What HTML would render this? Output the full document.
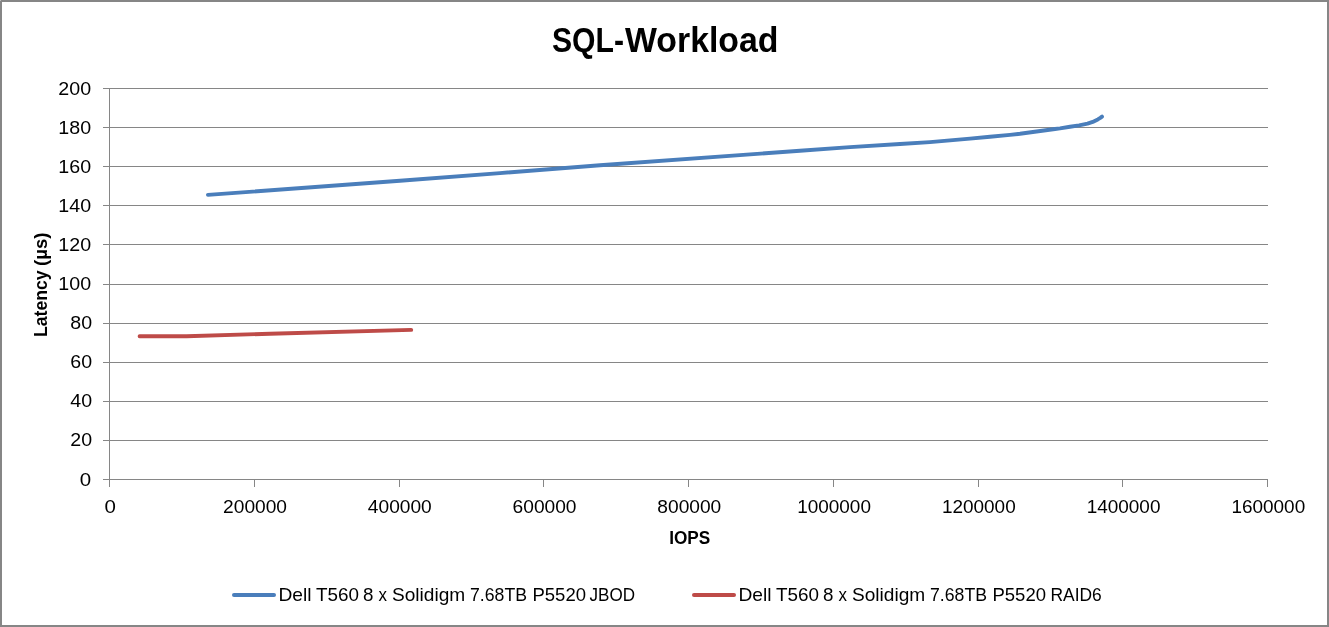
<!DOCTYPE html>
<html><head><meta charset="utf-8"><title>SQL-Workload</title>
<style>
html,body{margin:0;padding:0;background:#fff;}
body{width:1329px;height:627px;overflow:hidden;}
svg{display:block;will-change:transform;}
text{font-family:"Liberation Sans",sans-serif;fill:#000;}
.b{font-weight:bold;}
</style></head><body>
<svg width="1329" height="627" viewBox="0 0 1329 627">
<rect x="0" y="0" width="1329" height="627" fill="#fff"/>
<rect x="1" y="1" width="1327" height="625" fill="none" stroke="#868686" stroke-width="2" shape-rendering="crispEdges"/>
<rect x="0" y="0" width="1" height="1" fill="#bcbcbc"/>
<g stroke="#868686" stroke-width="1" shape-rendering="crispEdges">
<line x1="103" y1="479.5" x2="1268" y2="479.5"/>
<line x1="103" y1="440.5" x2="1268" y2="440.5"/>
<line x1="103" y1="401.5" x2="1268" y2="401.5"/>
<line x1="103" y1="362.5" x2="1268" y2="362.5"/>
<line x1="103" y1="323.5" x2="1268" y2="323.5"/>
<line x1="103" y1="284.5" x2="1268" y2="284.5"/>
<line x1="103" y1="244.5" x2="1268" y2="244.5"/>
<line x1="103" y1="205.5" x2="1268" y2="205.5"/>
<line x1="103" y1="166.5" x2="1268" y2="166.5"/>
<line x1="103" y1="127.5" x2="1268" y2="127.5"/>
<line x1="103" y1="88.5" x2="1268" y2="88.5"/>
<line x1="109.5" y1="88" x2="109.5" y2="487"/>
<line x1="254.5" y1="480" x2="254.5" y2="487"/>
<line x1="399.5" y1="480" x2="399.5" y2="487"/>
<line x1="543.5" y1="480" x2="543.5" y2="487"/>
<line x1="688.5" y1="480" x2="688.5" y2="487"/>
<line x1="833.5" y1="480" x2="833.5" y2="487"/>
<line x1="978.5" y1="480" x2="978.5" y2="487"/>
<line x1="1122.5" y1="480" x2="1122.5" y2="487"/>
<line x1="1267.5" y1="480" x2="1267.5" y2="487"/>
</g>
<g font-size="17.8">
<text x="79.70" y="486" textLength="11.40" lengthAdjust="spacingAndGlyphs">0</text>
<text x="70.30" y="446" textLength="21.80" lengthAdjust="spacingAndGlyphs">20</text>
<text x="70.30" y="407" textLength="21.80" lengthAdjust="spacingAndGlyphs">40</text>
<text x="70.30" y="368" textLength="21.80" lengthAdjust="spacingAndGlyphs">60</text>
<text x="70.30" y="329" textLength="21.80" lengthAdjust="spacingAndGlyphs">80</text>
<text x="58.30" y="290" textLength="32.80" lengthAdjust="spacingAndGlyphs">100</text>
<text x="58.30" y="251" textLength="32.80" lengthAdjust="spacingAndGlyphs">120</text>
<text x="58.30" y="212" textLength="32.80" lengthAdjust="spacingAndGlyphs">140</text>
<text x="58.30" y="173" textLength="32.80" lengthAdjust="spacingAndGlyphs">160</text>
<text x="58.30" y="134" textLength="32.80" lengthAdjust="spacingAndGlyphs">180</text>
<text x="58.30" y="95" textLength="32.80" lengthAdjust="spacingAndGlyphs">200</text>
<text x="104.60" y="513.2" textLength="11.40" lengthAdjust="spacingAndGlyphs">0</text>
<text x="223.05" y="513.2" textLength="64.00" lengthAdjust="spacingAndGlyphs">200000</text>
<text x="367.80" y="513.2" textLength="64.00" lengthAdjust="spacingAndGlyphs">400000</text>
<text x="512.55" y="513.2" textLength="64.00" lengthAdjust="spacingAndGlyphs">600000</text>
<text x="657.30" y="513.2" textLength="64.00" lengthAdjust="spacingAndGlyphs">800000</text>
<text x="797.15" y="513.2" textLength="73.80" lengthAdjust="spacingAndGlyphs">1000000</text>
<text x="941.90" y="513.2" textLength="73.80" lengthAdjust="spacingAndGlyphs">1200000</text>
<text x="1086.65" y="513.2" textLength="73.80" lengthAdjust="spacingAndGlyphs">1400000</text>
<text x="1231.40" y="513.2" textLength="73.80" lengthAdjust="spacingAndGlyphs">1600000</text>
</g>
<text class="b" x="552.0" y="52.3" font-size="35" textLength="72.0" lengthAdjust="spacingAndGlyphs">SQL-</text>
<text class="b" x="625.0" y="52.3" font-size="35" textLength="153.5" lengthAdjust="spacingAndGlyphs">Workload</text>
<text class="b" x="669.2" y="543.7" font-size="18.2" textLength="41.1" lengthAdjust="spacingAndGlyphs">IOPS</text>
<g class="b" font-size="18.2" transform="translate(47.3,436) rotate(-90)"><text x="99.0" y="0" textLength="66.5" lengthAdjust="spacingAndGlyphs">Latency</text><text x="170.0" y="0" textLength="33.5" lengthAdjust="spacingAndGlyphs">(µs)</text></g>
<polyline fill="none" stroke="#4a7ebb" stroke-width="3.9" stroke-linecap="round" stroke-linejoin="round" points="207.95,194.9 400,180.8 500,173.1 600,165.2 800,150.75 850,147.15 900,144.0 930,142.1 950,140.4 970,138.6 990,136.8 1010,134.9 1020,133.8 1055,129.05 1060,128.4 1070,126.8 1079.1,125.3 1087.5,123.6 1092.7,121.9 1097.8,119.4 1100.3,117.9 1102.0,116.65"/>
<polyline fill="none" stroke="#be4b48" stroke-width="3.9" stroke-linecap="round" stroke-linejoin="round" points="139.6,336.2 186.5,336.2 270,333.7 411.2,329.9"/>
<line x1="234" y1="595" x2="274" y2="595" stroke="#4a7ebb" stroke-width="4" stroke-linecap="round"/>
<g font-size="17.8">
<text x="278.45" y="600.8" textLength="33.10" lengthAdjust="spacingAndGlyphs">Dell</text>
<text x="316.02" y="600.8" textLength="42.98" lengthAdjust="spacingAndGlyphs">T560</text>
<text x="363.06" y="600.8" textLength="10.44" lengthAdjust="spacingAndGlyphs">8</text>
<text x="378.53" y="600.8" textLength="8.46" lengthAdjust="spacingAndGlyphs">x</text>
<text x="391.99" y="600.8" textLength="73.28" lengthAdjust="spacingAndGlyphs">Solidigm</text>
<text x="470.00" y="600.8" textLength="57.00" lengthAdjust="spacingAndGlyphs">7.68TB</text>
<text x="532.48" y="600.8" textLength="53.54" lengthAdjust="spacingAndGlyphs">P5520</text>
<text x="589.48" y="600.8" textLength="45.51" lengthAdjust="spacingAndGlyphs">JBOD</text>
<line x1="694" y1="595" x2="734" y2="595" stroke="#be4b48" stroke-width="4" stroke-linecap="round"/>
<text x="738.45" y="600.8" textLength="33.10" lengthAdjust="spacingAndGlyphs">Dell</text>
<text x="776.02" y="600.8" textLength="42.98" lengthAdjust="spacingAndGlyphs">T560</text>
<text x="823.06" y="600.8" textLength="10.44" lengthAdjust="spacingAndGlyphs">8</text>
<text x="838.53" y="600.8" textLength="8.46" lengthAdjust="spacingAndGlyphs">x</text>
<text x="851.99" y="600.8" textLength="73.28" lengthAdjust="spacingAndGlyphs">Solidigm</text>
<text x="930.00" y="600.8" textLength="57.00" lengthAdjust="spacingAndGlyphs">7.68TB</text>
<text x="992.48" y="600.8" textLength="53.54" lengthAdjust="spacingAndGlyphs">P5520</text>
<text x="1050.49" y="600.8" textLength="51.25" lengthAdjust="spacingAndGlyphs">RAID6</text>
</g>
</svg>
</body></html>
